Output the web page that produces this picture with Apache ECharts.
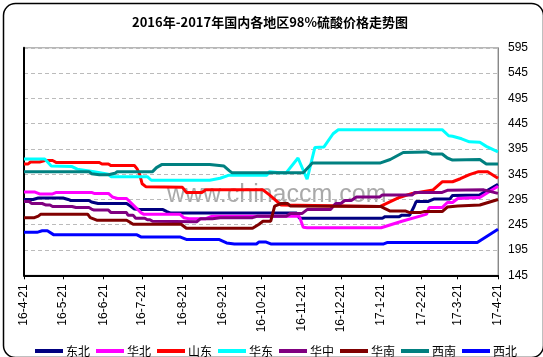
<!DOCTYPE html>
<html><head><meta charset="utf-8">
<script src="https://cdn.jsdelivr.net/npm/echarts@6/dist/echarts.min.js"></script>
<style>html,body{margin:0;padding:0;background:#fff}#c{width:543px;height:357px}</style>
</head><body><div id="c"></div>
<script>
const titleText = '2016年-2017年国内各地区98%硫酸价格走势图';
const regions = ['东北','华北','山东','华东','华中','华南','西南','西北'];
const regionColors = ['#000080','#FF00FF','#FF0000','#00FFFF','#800080','#800000','#008080','#0000FF'];
const startDay = [2016, 4, 21];
const endDay = [2017, 4, 21];
const yMin = 145, yMax = 595, yStep = 50;
const watermark = 'www.chinaccm.com';

const dongbei = [['2016-04-21',295],['2016-04-28',295],['2016-05-02',298],['2016-05-21',298],['2016-05-25',295],['2016-05-27',293],['2016-06-10',293],['2016-06-12',290],['2016-06-17',287],['2016-07-09',287],['2016-07-12',282],['2016-07-15',276],['2016-07-19',275],['2016-08-06',275],['2016-08-09',271],['2016-08-12',268],['2016-11-17',268],['2016-11-19',258],['2017-01-22',258],['2017-01-24',261],['2017-02-04',261],['2017-02-06',264],['2017-02-12',264],['2017-02-15',279],['2017-02-17',291],['2017-02-26',291],['2017-03-03',296],['2017-03-15',296],['2017-03-17',303],['2017-04-07',304],['2017-04-21',325]];
const huabei = [['2016-04-21',310],['2016-04-29',310],['2016-05-03',306],['2016-05-13',306],['2016-05-16',309],['2016-06-12',309],['2016-06-14',307],['2016-06-25',307],['2016-06-28',300],['2016-07-02',297],['2016-07-09',297],['2016-07-20',269],['2016-07-22',266],['2016-08-19',266],['2016-08-22',259],['2016-08-26',257],['2016-09-08',257],['2016-09-13',262],['2016-11-19',262],['2016-11-22',240],['2016-11-25',239],['2017-01-21',239],['2017-02-06',252],['2017-02-20',262],['2017-02-25',266],['2017-02-27',279],['2017-03-09',279],['2017-03-13',289],['2017-03-17',289],['2017-03-21',297],['2017-04-07',299],['2017-04-21',321]];
const shandong = [['2016-04-21',365],['2016-04-24',365],['2016-04-26',369],['2016-05-03',369],['2016-05-07',372],['2016-05-13',372],['2016-05-16',368],['2016-06-18',368],['2016-06-20',365],['2016-06-25',365],['2016-06-27',362],['2016-07-15',362],['2016-07-17',356],['2016-07-19',345],['2016-07-21',326],['2016-07-24',320],['2016-08-21',319],['2016-08-24',309],['2016-09-05',309],['2016-09-08',314],['2016-10-22',314],['2016-10-27',304],['2016-11-05',284],['2017-01-20',281],['2017-02-04',299],['2017-02-14',307],['2017-03-02',314],['2017-03-09',330],['2017-03-17',330],['2017-03-23',336],['2017-03-30',344],['2017-04-06',350],['2017-04-13',350],['2017-04-21',337]];
const huadong = [['2016-04-21',375],['2016-05-07',375],['2016-05-12',361],['2016-05-28',360],['2016-06-01',355],['2016-06-14',350],['2016-06-25',345],['2016-06-27',340],['2016-07-25',340],['2016-07-28',333],['2016-09-11',333],['2016-09-19',337],['2016-09-26',343],['2016-10-25',343],['2016-10-27',350],['2016-11-04',348],['2016-11-09',348],['2016-11-18',377],['2016-11-25',335],['2016-12-01',398],['2016-12-08',399],['2016-12-15',425],['2016-12-19',433],['2017-03-09',433],['2017-03-14',421],['2017-03-17',420],['2017-03-24',415],['2017-03-30',409],['2017-04-07',408],['2017-04-12',400],['2017-04-21',389]];
const huazhong = [['2016-04-21',291],['2016-04-25',291],['2016-04-27',287],['2016-05-05',287],['2016-05-08',284],['2016-05-11',284],['2016-05-13',281],['2016-05-28',281],['2016-05-31',279],['2016-06-10',279],['2016-06-12',276],['2016-06-14',274],['2016-06-25',274],['2016-06-27',269],['2016-07-09',269],['2016-07-10',264],['2016-07-14',264],['2016-07-16',258],['2016-07-23',258],['2016-07-25',255],['2016-07-27',255],['2016-07-29',252],['2016-09-01',251],['2016-09-04',257],['2016-09-13',257],['2016-09-19',259],['2016-10-14',259],['2016-10-18',262],['2016-11-09',262],['2016-11-12',267],['2016-11-21',267],['2016-11-25',275],['2016-12-13',275],['2016-12-17',287],['2016-12-21',287],['2016-12-24',293],['2016-12-29',293],['2017-01-02',300],['2017-01-20',300],['2017-01-22',304],['2017-02-14',304],['2017-02-16',309],['2017-03-09',309],['2017-03-13',313],['2017-04-10',314],['2017-04-21',307]];
const huanan = [['2016-04-21',259],['2016-04-29',259],['2016-05-02',262],['2016-05-04',266],['2016-06-09',266],['2016-06-11',259],['2016-06-16',254],['2016-07-09',254],['2016-07-11',251],['2016-07-14',246],['2016-08-20',246],['2016-08-24',238],['2016-10-14',238],['2016-10-19',246],['2016-10-22',252],['2016-10-28',252],['2016-10-31',282],['2016-11-05',287],['2016-11-10',287],['2016-11-12',282],['2017-01-21',281],['2017-01-24',277],['2017-01-28',272],['2017-02-09',272],['2017-02-12',269],['2017-02-20',269],['2017-02-23',271],['2017-03-09',271],['2017-03-13',280],['2017-03-21',282],['2017-04-07',284],['2017-04-21',295]];
const xinan = [['2016-04-21',350],['2016-06-10',350],['2016-06-12',346],['2016-06-18',344],['2016-06-25',344],['2016-06-30',347],['2016-07-02',350],['2016-07-29',350],['2016-08-01',358],['2016-08-05',364],['2016-09-11',364],['2016-09-22',361],['2016-09-26',352],['2016-09-28',348],['2016-11-22',348],['2016-11-29',367],['2017-01-20',367],['2017-01-28',374],['2017-02-07',388],['2017-02-25',389],['2017-03-01',385],['2017-03-09',385],['2017-03-13',377],['2017-03-17',373],['2017-04-07',374],['2017-04-12',365],['2017-04-21',365]];
const xibei = [['2016-04-21',230],['2016-05-01',230],['2016-05-05',233],['2016-05-09',233],['2016-05-14',225],['2016-07-17',225],['2016-07-20',221],['2016-08-19',221],['2016-08-24',216],['2016-09-18',216],['2016-09-24',209],['2016-09-30',207],['2016-10-17',207],['2016-10-19',211],['2016-10-24',211],['2016-10-28',207],['2017-01-23',207],['2017-01-26',210],['2017-04-05',210],['2017-04-21',236]];

const seriesData = [dongbei, huabei, shandong, huadong, huazhong, huanan, xinan, xibei];

// daily category axis
const days = [];
for (let t = Date.UTC(startDay[0], startDay[1]-1, startDay[2]); t <= Date.UTC(endDay[0], endDay[1]-1, endDay[2]); t += 86400000) {
  days.push(new Date(t).toISOString().slice(0,10));
}
const isTickDay = (i, v) => v.slice(8) === '21';
const fmtDay = v => { const p = v.split('-'); return p[0].slice(2) + '-' + (+p[1]) + '-' + (+p[2]); };

const chart = echarts.init(document.getElementById('c'), null, {renderer:'canvas'});
const sansFont = '"Liberation Sans", Arial, sans-serif';
chart.setOption({
  animation: false,
  backgroundColor: '#fff',
  title: {
    text: titleText, left: 265, top: 11, textAlign: 'center',
    textStyle: {fontSize: 13, fontWeight: 'bold', color: '#000', fontFamily: '"Noto Sans CJK SC", sans-serif'}
  },
  graphic: [
    {type: 'rect', left: 1, top: 1, z: -10, silent: true,
     shape: {width: 540, height: 354, r: 12},
     style: {fill: 'none', stroke: '#000', lineWidth: 1.5}},
    {type: 'text', left: 167, top: 183, z: -5, silent: true,
     style: {text: watermark, fontSize: 25, fontFamily: sansFont, fill: 'rgba(140,140,140,0.75)'}}
  ],
  legend: {
    data: regions, left: 30, top: 340, itemGap: 6, itemWidth: 28, itemHeight: 4, icon: 'rect',
    textStyle: {fontSize: 12, color: '#000', fontFamily: '"Noto Sans CJK SC", sans-serif', padding: [0,0,0,-2]}
  },
  grid: {left: 24, right: 45, top: 47.8, bottom: 81.7, show: true, borderColor: '#999', borderWidth: 1, containLabel: false},
  xAxis: {
    type: 'category', data: days, boundaryGap: false,
    axisLine: {lineStyle: {color: '#000', width: 2}},
    axisTick: {interval: isTickDay, length: 4, lineStyle: {color: '#000'}},
    axisLabel: {interval: isTickDay, rotate: 90, margin: 9, fontSize: 12, color: '#000', fontFamily: sansFont, formatter: fmtDay},
    splitLine: {show: false}
  },
  yAxis: [
    {type: 'value', position: 'right', min: yMin, max: yMax, interval: yStep,
     axisLine: {show: true, lineStyle: {color: '#888', width: 1}},
     axisTick: {show: false},
     axisLabel: {margin: 10, fontSize: 12, color: '#000', fontFamily: sansFont},
     splitLine: {show: true, lineStyle: {color: '#bbb', type: [4, 3], width: 1}}},
    {type: 'value', position: 'left', min: yMin, max: yMax, interval: yStep,
     axisLine: {show: true, lineStyle: {color: '#000', width: 2}},
     axisTick: {show: false}, axisLabel: {show: false}, splitLine: {show: false}}
  ],
  series: regions.map((name, i) => ({
    name, type: 'line', data: seriesData[i], yAxisIndex: 0,
    showSymbol: false, symbol: 'none',
    lineStyle: {color: regionColors[i], width: 3},
    itemStyle: {color: regionColors[i]}
  }))
});
</script></body></html>
